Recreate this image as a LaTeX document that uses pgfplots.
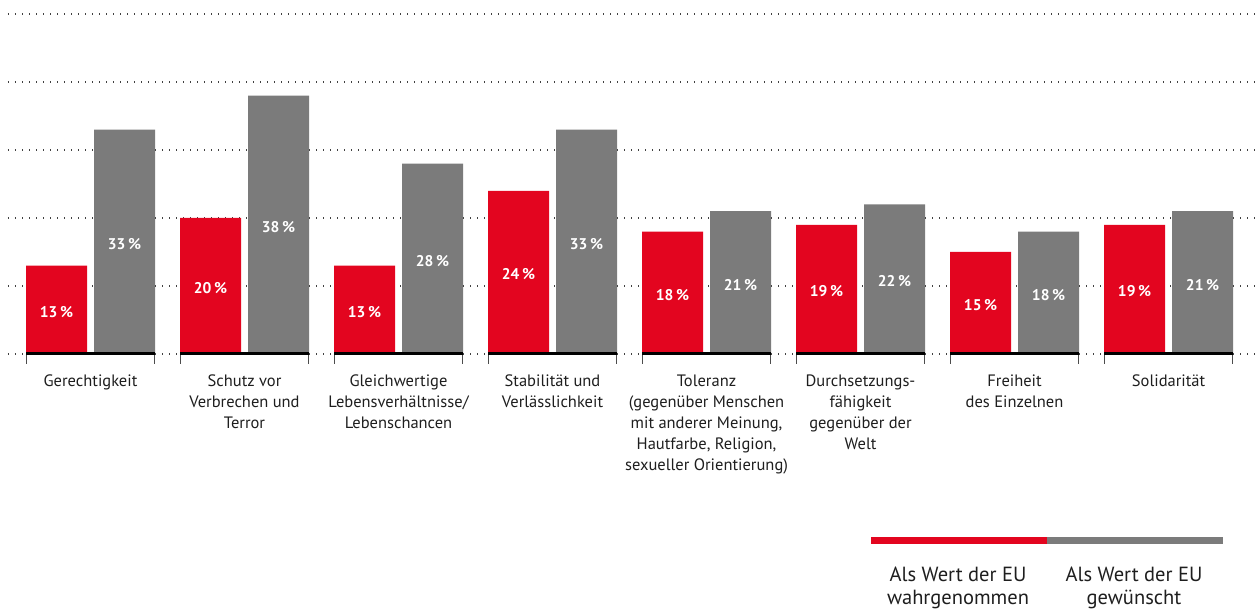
\documentclass[border=0pt]{standalone}
\usepackage{fontspec}
\setmainfont{PT Sans}
\usepackage{pgfplots}
\usepackage{pgfplotstable}
\pgfplotsset{compat=1.18}
\definecolor{eured}{HTML}{E3051F}
\definecolor{eugray}{HTML}{7B7B7B}
\definecolor{txt}{HTML}{1E1E1E}
\pgfplotstableread{
x red gray
0 13 33
1 20 38
2 13 28
3 24 33
4 18 21
5 19 22
6 15 18
7 19 21
}\data
\begin{document}
\begin{tikzpicture}[x=1pt,y=1pt]
\path[use as bounding box] (0,0) rectangle (1258,610);
\begin{axis}[
  at={(8pt,256pt)}, anchor=south west,
  scale only axis, width=1250pt, height=340pt,
  xmin=-0.53571, xmax=7.58117, ymin=0, ymax=50,
  clip=false,
  axis line style={draw=none},
  major tick length=0pt,
  ytick={0,10,...,50}, yticklabels={},
  ymajorgrids, grid style={draw=black!75, line width=1.4pt, dash pattern=on 1.4pt off 5.6pt},
  xtick={0,...,7},
  xticklabels={{Gerechtigkeit},{Schutz vor\\Verbrechen und\\Terror},{Gleichwertige\\Lebensverhältnisse/\\Lebenschancen},{Stabilität und\\Verlässlichkeit},{Toleranz\\(gegenüber Menschen\\mit anderer Meinung,\\Hautfarbe, Religion,\\sexueller Orientierung)},{Durchsetzungs-\\fähigkeit\\gegenüber der\\Welt},{Freiheit\\des Einzelnen},{Solidarität}},
  xticklabel style={align=center, text=txt, font=\fontsize{16.5}{21}\selectfont, yshift=-17pt},
]
\addplot[ybar, bar width=0.39610, bar shift=0pt, fill=eured, draw=none] table[x expr=\thisrow{x}-0.22078, y=red] {\data};
\addplot[ybar, bar width=0.39610, bar shift=0pt, fill=eugray, draw=none] table[x expr=\thisrow{x}+0.22078, y=gray] {\data};
\addplot[draw=none, mark=none, point meta=explicit,
  nodes near coords={\pgfmathprintnumber[assume math mode=true]{\pgfplotspointmeta}\,\%},
  every node near coord/.style={anchor=center, text=white, font=\bfseries\fontsize{15.5}{18}\selectfont, yshift=-2pt}]
  table[x expr=\thisrow{x}-0.22078, y expr=\thisrow{red}/2, meta=red] {\data};
\addplot[draw=none, mark=none, point meta=explicit,
  nodes near coords={\pgfmathprintnumber[assume math mode=true]{\pgfplotspointmeta}\,\%},
  every node near coord/.style={anchor=center, text=white, font=\bfseries\fontsize{15.5}{18}\selectfont, yshift=-2pt}]
  table[x expr=\thisrow{x}+0.22078, y expr=\thisrow{gray}/2, meta=gray] {\data};
\pgfplotsinvokeforeach{0,...,7}{
  \draw[black!70, line width=1pt] (axis cs:#1-0.41558,0) -- ([yshift=-10pt]axis cs:#1-0.41558,0);
  \draw[black!70, line width=1pt] (axis cs:#1+0.41558,0) -- ([yshift=-10pt]axis cs:#1+0.41558,0);
  \draw[black, line width=3pt] (axis cs:#1-0.41883,0) -- (axis cs:#1+0.41883,0);
}
\end{axis}
\fill[eured] (871,66) rectangle (1047,73);
\fill[eugray] (1047,66) rectangle (1223,73);
\node[align=center, anchor=north, text=txt, font=\fontsize{20.5}{23.5}\selectfont] at (958,47) {Als Wert der EU\\wahrgenommen};
\node[align=center, anchor=north, text=txt, font=\fontsize{20.5}{23.5}\selectfont] at (1134,47) {Als Wert der EU\\gewünscht};
\end{tikzpicture}
\end{document}
